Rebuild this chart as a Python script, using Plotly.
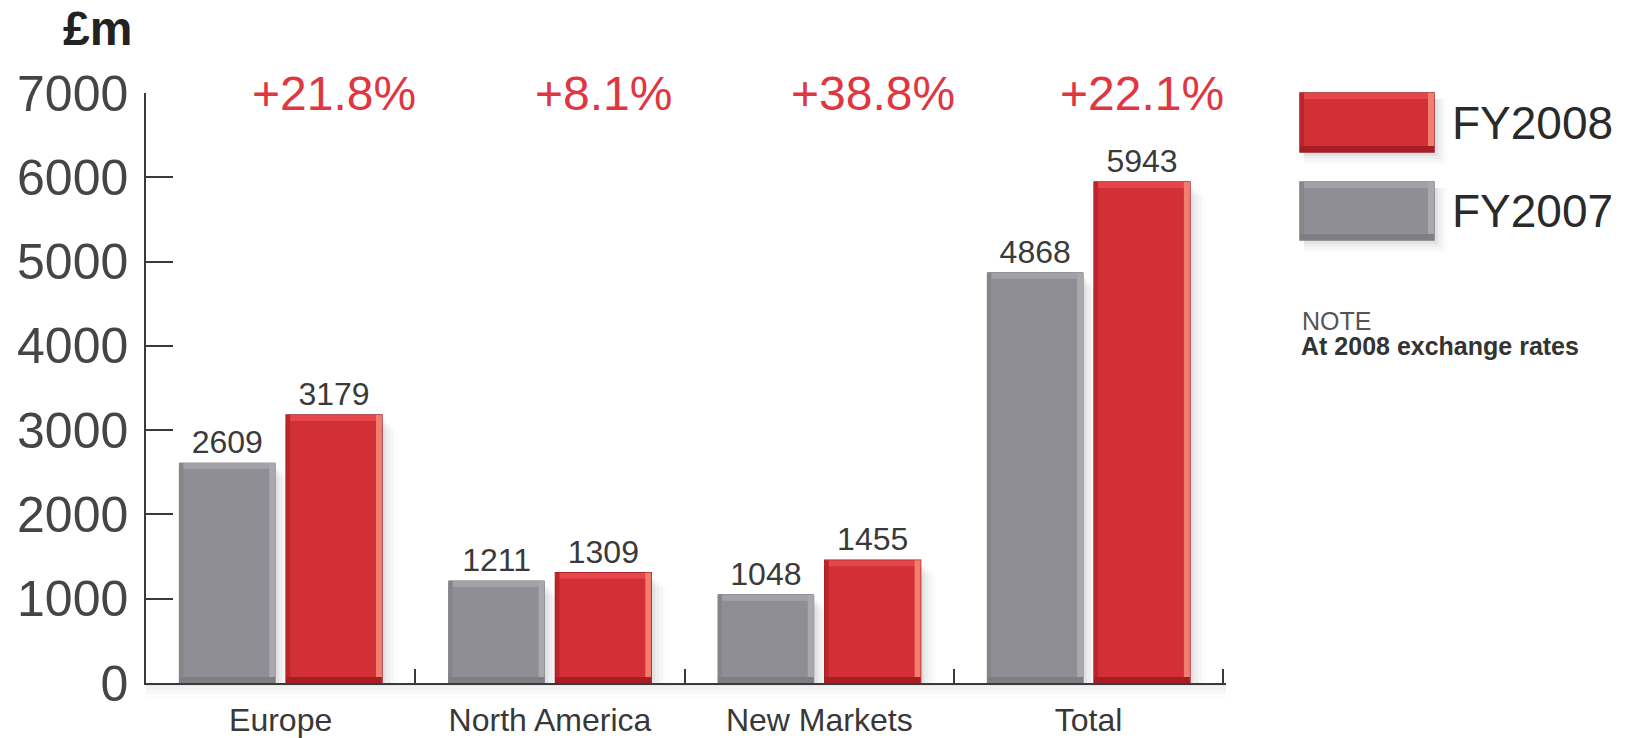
import plotly.graph_objects as go

# Revenue by region, £m
categories = ["Europe", "North America", "New Markets", "Total"]
fy2007 = [2609, 1211, 1048, 4868]
fy2008 = [3179, 1309, 1455, 5943]
growth = ["+21.8%", "+8.1%", "+38.8%", "+22.1%"]
series_names = ["FY2008", "FY2007"]
y_ticks = [0, 1000, 2000, 3000, 4000, 5000, 6000, 7000]

FONT = "Liberation Sans"
RED = "#d22f37"
GREY = "#8f8e94"

W, H = 1630, 738
M_L, M_R, M_T, M_B = 146, 404, 93, 55
Y_MAX = 7000
BARGAP = 0.207
BARGROUPGAP = 0.103

plot_w = W - M_L - M_R
plot_h = H - M_T - M_B
cat_px = plot_w / len(categories)          # pixels per category
px_x = 1.0 / cat_px                        # one pixel in category units
px_y = Y_MAX / plot_h                      # one pixel in y units

slot = (1 - BARGAP) / 2
bar_w = slot * (1 - BARGROUPGAP)

fig = go.Figure()
fig.add_trace(go.Bar(
    name=series_names[1], x=categories, y=fy2007,
    marker=dict(color=GREY, line=dict(color="#7c7b81", width=1)),
    text=[str(v) for v in fy2007], textposition="outside",
    textfont=dict(family=FONT, size=32, color="#3a3a3a"),
    constraintext="none", cliponaxis=False,
))
fig.add_trace(go.Bar(
    name=series_names[0], x=categories, y=fy2008,
    marker=dict(color=RED, line=dict(color="#9a1a20", width=1.5)),
    text=[str(v) for v in fy2008], textposition="outside",
    textfont=dict(family=FONT, size=32, color="#3a3a3a"),
    constraintext="none", cliponaxis=False,
))

shapes = []


def bevel(x0, x1, y0, y1, xref, yref, sx, sy, style, layer="above"):
    """Bevelled edges for a bar or swatch rectangle."""
    b = 6
    out = []
    for (a0, a1, c0, c1, col) in [
        (x0, x1, y1 - b * sy, y1, style["top"]),
        (x1 - b * sx, x1, y0, y1, style["right"]),
        (x0, x0 + 4 * sx, y0, y1, style["left"]),
        (x0, x1, y0, y0 + b * sy, style["bottom"]),
    ]:
        out.append(dict(type="rect", xref=xref, yref=yref, x0=a0, x1=a1,
                        y0=c0, y1=c1, fillcolor=col, line=dict(width=0),
                        layer=layer))
    return out


red_style = dict(top="#e5464c", right="#f37d6f", left="#bd252c", bottom="#a81d23")
grey_style = dict(top="#a2a1a7", right="#a9a8ad", left="#86858b", bottom="#7f7e84")

for i in range(len(categories)):
    for val, sign, style in [(fy2007[i], -1, grey_style), (fy2008[i], 1, red_style)]:
        c = i + sign * slot / 2
        x0, x1 = c - bar_w / 2, c + bar_w / 2
        # soft shadow to the right of each bar
        for k, op in enumerate([0.07, 0.05, 0.035, 0.02]):
            shapes.append(dict(type="rect", xref="x", yref="y",
                               x0=x1, x1=x1 + (4 + 4 * k) * px_x,
                               y0=0, y1=val - (6 + 3 * k) * px_y,
                               fillcolor="rgba(90,90,100,%.3f)" % op,
                               line=dict(width=0), layer="below"))
        shapes += bevel(x0, x1, 0, val, "x", "y", px_x, px_y, style)

# soft shadow under the baseline
for k, op in enumerate([0.06, 0.04, 0.025, 0.015]):
    shapes.append(dict(type="rect", xref="paper", yref="paper",
                       x0=0, x1=1, y0=-(3 + 4 * k) / plot_h, y1=0,
                       fillcolor="rgba(90,90,100,%.3f)" % op,
                       line=dict(width=0), layer="below"))


# legend swatches (paper coordinates relative to plot area)
def to_paper_x(px):
    return (px - M_L) / plot_w


def to_paper_y(py):
    return (H - M_B - py) / plot_h


legend_items = [(series_names[0], RED, "#9a1a20", red_style, 93, 152),
                (series_names[1], GREY, "#7c7b81", grey_style, 182, 240)]
annotations = []
for name, fill, edge, style, top, bot in legend_items:
    lx0, lx1 = to_paper_x(1300), to_paper_x(1434)
    ly0, ly1 = to_paper_y(bot), to_paper_y(top)
    for k, op in enumerate([0.07, 0.05, 0.035, 0.02]):
        shapes.append(dict(type="rect", xref="paper", yref="paper",
                           x0=lx0 + 4 / plot_w, x1=lx1 + (4 + 3 * k) / plot_w,
                           y0=ly0 - (4 + 3 * k) / plot_h, y1=ly1 - 6 / plot_h,
                           fillcolor="rgba(90,90,100,%.3f)" % op,
                           line=dict(width=0), layer="below"))
    shapes.append(dict(type="rect", xref="paper", yref="paper",
                       x0=lx0, x1=lx1, y0=ly0, y1=ly1, fillcolor=fill,
                       line=dict(color=edge, width=1.5)))
    shapes += bevel(lx0, lx1, ly0, ly1, "paper", "paper",
                    1 / plot_w, 1 / plot_h, style)
    annotations.append(dict(xref="paper", yref="paper",
                            x=to_paper_x(1450), y=to_paper_y((top + bot) / 2),
                            xanchor="left", yanchor="middle", showarrow=False,
                            text=name, font=dict(family=FONT, size=46, color="#2a2a2a")))

annotations.append(dict(xref="paper", yref="paper", x=to_paper_x(1300),
                        y=to_paper_y(321), xanchor="left", yanchor="middle",
                        showarrow=False, text="NOTE",
                        font=dict(family=FONT, size=25, color="#555555")))
annotations.append(dict(xref="paper", yref="paper", x=to_paper_x(1299),
                        y=to_paper_y(346), xanchor="left", yanchor="middle",
                        showarrow=False, text="<b>At 2008 exchange rates</b>",
                        font=dict(family=FONT, size=25, color="#333333")))

# growth percentages above the FY2008 bars
for i, g in enumerate(growth):
    annotations.append(dict(xref="x", yref="y", x=i + slot / 2, y=Y_MAX,
                            xanchor="center", yanchor="middle", showarrow=False,
                            text=g, font=dict(family=FONT, size=48, color="#e0363f")))

# unit label
annotations.append(dict(xref="paper", yref="paper", x=to_paper_x(97),
                        y=to_paper_y(28), xanchor="center", yanchor="middle",
                        showarrow=False, text="<b>£m</b>",
                        font=dict(family=FONT, size=48, color="#222222")))

fig.update_layout(
    width=W, height=H,
    margin=dict(l=M_L, r=M_R, t=M_T, b=M_B, pad=0, autoexpand=False),
    paper_bgcolor="white", plot_bgcolor="white",
    barmode="group", bargap=BARGAP, bargroupgap=BARGROUPGAP,
    showlegend=False,
    shapes=shapes, annotations=annotations,
    xaxis=dict(
        type="category", categoryorder="array", categoryarray=categories,
        automargin=False,
        showline=True, linecolor="#3a3a3a", linewidth=1.5,
        ticks="inside", tickson="boundaries", ticklen=14,
        tickcolor="#3a3a3a", tickwidth=1.5,
        tickfont=dict(family=FONT, size=32, color="#383838"),
        ticklabelstandoff=8, showgrid=False, zeroline=False,
    ),
    yaxis=dict(
        range=[0, Y_MAX], tickvals=y_ticks, automargin=False,
        showline=True, linecolor="#3a3a3a", linewidth=1.5,
        ticks="inside", ticklen=27, tickcolor="#3a3a3a", tickwidth=1.5,
        tickfont=dict(family=FONT, size=50, color="#454545"),
        ticklabelstandoff=6, showgrid=False, zeroline=False,
    ),
)

fig.write_html("out.html")
